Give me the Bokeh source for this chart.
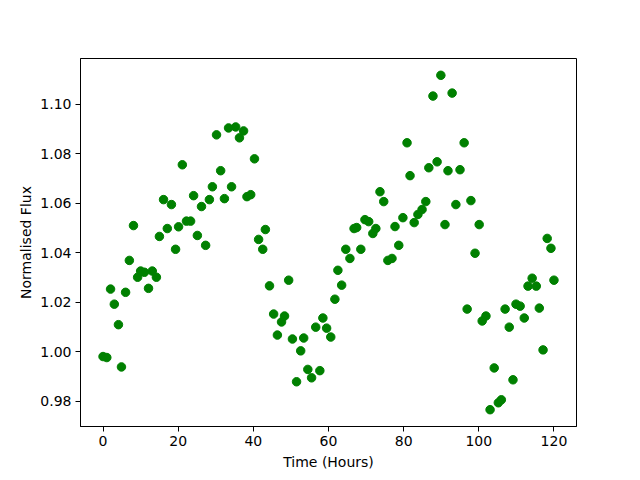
from bokeh.plotting import figure
from bokeh.models import Range1d, FixedTicker, PrintfTickFormatter
from bokeh.embed import file_html
from bokeh.resources import INLINE

hours = [0.0, 1.0, 2.0, 3.0, 4.1, 4.9, 6.0, 7.0, 8.1, 9.2,
         10.0, 11.0, 12.1, 13.1, 14.2, 15.0, 16.1, 17.1, 18.2, 19.3,
         20.1, 21.1, 22.2, 23.3, 24.1, 25.1, 26.2, 27.3, 28.3, 29.1,
         30.2, 31.3, 32.3, 33.4, 34.2, 35.3, 36.3, 37.4, 38.3, 39.3,
         40.3, 41.4, 42.5, 43.2, 44.3, 45.4, 46.4, 47.5, 48.3, 49.4,
         50.4, 51.5, 52.6, 53.4, 54.5, 55.5, 56.6, 57.7, 58.5, 59.5,
         60.6, 61.7, 62.5, 63.5, 64.6, 65.7, 66.8, 67.5, 68.6, 69.7,
         70.7, 71.8, 72.6, 73.7, 74.7, 75.8, 76.9, 77.7, 78.7, 79.8,
         80.9, 81.7, 82.8, 83.8, 84.9, 85.9, 86.7, 87.8, 88.9, 89.9,
         91.0, 91.8, 92.9, 93.9, 95.0, 96.1, 96.9, 97.9, 99.0, 100.1,
         100.9, 101.9, 103.0, 104.1, 105.2, 106.0, 107.0, 108.1, 109.1, 109.9,
         111.0, 112.1, 113.1, 114.2, 115.3, 116.1, 117.1, 118.2, 119.2, 120.0]

flux = [0.9980, 0.9976, 1.0253, 1.0192, 1.0109, 0.9938, 1.0240, 1.0369, 1.0510, 1.0301,
        1.0326, 1.0321, 1.0256, 1.0326, 1.0301, 1.0466, 1.0615, 1.0498, 1.0595, 1.0414,
        1.0505, 1.0756, 1.0528, 1.0528, 1.0631, 1.0470, 1.0587, 1.0430, 1.0615, 1.0667,
        1.0877, 1.0732, 1.0619, 1.0905, 1.0667, 1.0909, 1.0865, 1.0893, 1.0627, 1.0635,
        1.0780, 1.0454, 1.0414, 1.0494, 1.0266, 1.0152, 1.0067, 1.0120, 1.0144, 1.0289,
        1.0051, 0.9878, 1.0003, 1.0055, 0.9928, 0.9894, 1.0099, 0.9923, 1.0136, 1.0095,
        1.0059, 1.0212, 1.0329, 1.0269, 1.0414, 1.0377, 1.0498, 1.0502, 1.0414, 1.0534,
        1.0526, 1.0478, 1.0498, 1.0647, 1.0607, 1.0369, 1.0377, 1.0506, 1.0430, 1.0542,
        1.0845, 1.0712, 1.0522, 1.0555, 1.0575, 1.0607, 1.0744, 1.1034, 1.0768, 1.1118,
        1.0514, 1.0732, 1.1046, 1.0595, 1.0736, 1.0845, 1.0172, 1.0611, 1.0398, 1.0514,
        1.0124, 1.0144, 0.9765, 0.9934, 0.9793, 0.9805, 1.0172, 1.0099, 0.9886, 1.0192,
        1.0184, 1.0136, 1.0265, 1.0297, 1.0265, 1.0176, 1.0007, 1.0458, 1.0418, 1.0289]

x_ticks = [0, 20, 40, 60, 80, 100, 120]
y_ticks = [0.98, 1.00, 1.02, 1.04, 1.06, 1.08, 1.10]

p = figure(width=632, height=472, output_backend="svg", toolbar_location=None,
           x_range=Range1d(-6, 126), y_range=Range1d(0.9697, 1.1186),
           min_border_left=80, min_border_right=56, min_border_top=58, min_border_bottom=45)
p.background_fill_color = "white"
p.border_fill_color = "white"
p.outline_line_color = "black"
p.outline_line_width = 1
p.grid.visible = False

p.scatter(hours, flux, size=8.5, color="green", line_color="green")

for ax in (p.xaxis[0], p.yaxis[0]):
    ax.axis_line_color = "black"
    ax.major_tick_line_color = "black"
    ax.major_tick_out = 5
    ax.major_tick_in = 0
    ax.minor_tick_line_color = None
    ax.major_label_text_font = "DejaVu Sans"
    ax.major_label_text_font_size = "14px"
    ax.major_label_text_color = "black"
    ax.axis_label_text_font = "DejaVu Sans"
    ax.axis_label_text_font_size = "14px"
    ax.axis_label_text_font_style = "normal"
    ax.axis_label_text_color = "black"
    ax.major_label_standoff = 4

p.xaxis[0].ticker = FixedTicker(ticks=x_ticks)
p.yaxis[0].ticker = FixedTicker(ticks=y_ticks)
p.yaxis[0].formatter = PrintfTickFormatter(format="%.2f")
p.xaxis[0].axis_label = "Time (Hours)"
p.yaxis[0].axis_label = "Normalised Flux"
p.xaxis[0].axis_label_standoff = 5
p.yaxis[0].axis_label_standoff = 3

open("out.html", "w").write(file_html(p, INLINE))
